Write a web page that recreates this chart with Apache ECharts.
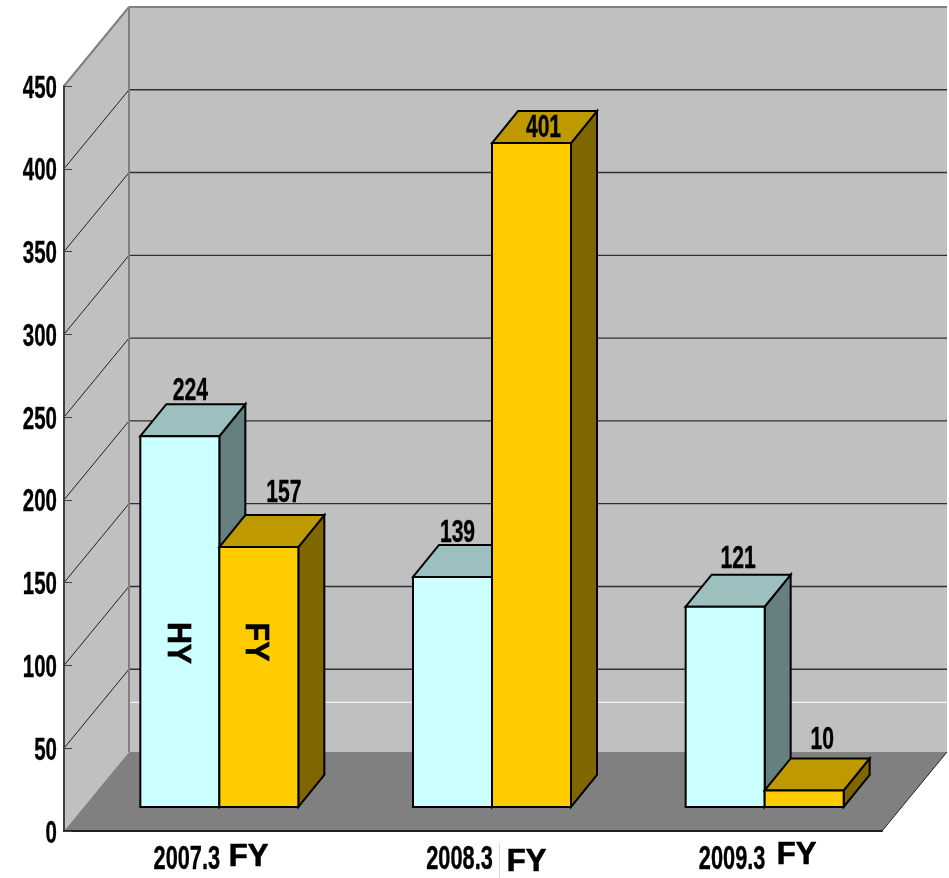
<!DOCTYPE html>
<html>
<head>
<meta charset="utf-8">
<style>html,body{margin:0;padding:0;background:#fff}#c{width:949px;height:878px}</style>
<script src="https://cdn.jsdelivr.net/npm/echarts@6/dist/echarts.min.js"></script>
</head>
<body>
<div id="c"></div>
<script>
const categories = ['2007.3', '2008.3', '2009.3'];
const hyValues = [224, 139, 121];
const fyValues = [157, 401, 10];
const yTicks = [0, 50, 100, 150, 200, 250, 300, 350, 400, 450];
const referenceLine = [30];
const periodTag = ['FY', 'FY', 'FY'];

const ARIAL = '"Liberation Sans",Arial,sans-serif';
const WALL = { dx: 65, dy: -79 };
const BAR = { w: 79, offX: 19, offY: -24, dx: 26, dy: -32 };
const COL = {
  hy: { front: '#CCFFFF', top: '#9CC0BF', side: '#668080' },
  fy: { front: '#FFCC00', top: '#BF9900', side: '#806600' }
};
const poly = (pts, fill, stroke, lw) => ({
  type: 'polygon', shape: { points: pts },
  style: { fill: fill, stroke: stroke || null, lineWidth: lw || 0, lineJoin: 'miter' }
});
const line = (x1, y1, x2, y2, stroke, lw) => ({
  type: 'line', shape: { x1, y1, x2, y2 }, style: { stroke, lineWidth: lw }
});
const txt = (x, y, text, font, extra) => Object.assign({
  type: 'text', x, y,
  style: { text, font, fill: '#000', stroke: '#000', lineWidth: 0.7, align: 'center', verticalAlign: 'middle' }
}, extra || {});
/* condensed gothic look: Liberation bold squeezed horizontally */
const narrow = (x, y, text, size, align) => ({
  type: 'text', x, y, scaleX: 0.66, scaleY: 1,
  style: {
    text, font: 'bold ' + size + 'px ' + ARIAL, fill: '#000',
    stroke: '#000', lineWidth: 0.4,
    align: align || 'center', verticalAlign: 'middle'
  }
});

function renderWalls(params, api) {
  const cs = params.coordSys;
  const L = cs.x, R = cs.x + cs.width, B = cs.y + cs.height, T = cs.y;
  const d = WALL;
  const kids = [
    poly([[L + d.dx, T + d.dy], [R + d.dx, T + d.dy], [R + d.dx, B + d.dy], [L + d.dx, B + d.dy]], '#C0C0C0'),
    poly([[L, T], [L + d.dx, T + d.dy], [L + d.dx, B + d.dy], [L, B]], '#C0C0C0'),
    poly([[L, B], [L + d.dx, B + d.dy], [R + d.dx, B + d.dy], [R, B]], '#808080')
  ];
  yTicks.forEach(v => {
    if (v === 0 || v === 450) return;
    const y = api.coord([0, v])[1];
    kids.push(line(L + d.dx, y + d.dy, R + d.dx, y + d.dy, '#303030', 1.4));
    kids.push(line(L, y, L + d.dx, y + d.dy, '#202020', 1));
  });
  referenceLine.forEach(v => {
    const y = api.coord([0, v])[1] + d.dy;
    kids.push(line(L + d.dx, y, R + d.dx, y, '#FFFFFF', 1));
  });
  kids.push(line(L, T, L + d.dx, T + d.dy, '#808080', 2));
  kids.push(line(L + d.dx, T + d.dy, R + d.dx, T + d.dy, '#808080', 2));
  kids.push(line(L + d.dx, T + d.dy, L + d.dx, B + d.dy, '#808080', 2));
  kids.push(line(R, B, R + d.dx, B + d.dy, '#202020', 1));
  return { type: 'group', children: kids };
}

function cuboid(x0, x1, yTop, yBase, c) {
  const b = BAR;
  return [
    poly([[x1, yTop], [x1 + b.dx, yTop + b.dy], [x1 + b.dx, yBase + b.dy], [x1, yBase]], c.side, '#000', 2),
    poly([[x0, yTop], [x0 + b.dx, yTop + b.dy], [x1 + b.dx, yTop + b.dy], [x1, yTop]], c.top, '#000', 2),
    poly([[x0, yTop], [x1, yTop], [x1, yBase], [x0, yBase]], c.front, '#000', 2)
  ];
}

function renderBars(params, api) {
  const kind = api.value(2);
  const p = api.coord([api.value(0), api.value(1)]);
  const base = api.coord([api.value(0), 0])[1] + BAR.offY;
  const cx = p[0] + BAR.offX;
  const x0 = kind === 0 ? cx - BAR.w : cx;
  const x1 = kind === 0 ? cx : cx + BAR.w;
  return { type: 'group', children: cuboid(x0, x1, p[1] + BAR.offY, base, kind === 0 ? COL.hy : COL.fy) };
}

/* hand placed label nudges: [dx from bar centre, dy from bar top] */
const nudgeHy = [[10.5, -45], [5, -44], [13, -48]];
const nudgeFy = [[25, -54], [12, -15], [18, -50]];
function renderLabels(params, api) {
  const i = api.value(0), kind = api.value(2);
  const p = api.coord([i, api.value(1)]);
  const cx = p[0] + BAR.offX + (kind === 0 ? -BAR.w / 2 : BAR.w / 2);
  const n = (kind === 0 ? nudgeHy : nudgeFy)[i];
  return narrow(cx + n[0], p[1] + BAR.offY + n[1], String(api.value(1)), 32);
}

function renderAxisText(params, api) {
  const cs = params.coordSys;
  const kids = [];
  yTicks.forEach(v => {
    kids.push(narrow(cs.x - 7, api.coord([0, v])[1] + 3, String(v), 31, 'right'));
  });
  categories.forEach((c, i) => {
    kids.push(narrow(api.coord([i, 0])[0] - 13.5, 860, c, 33));
  });
  return { type: 'group', children: kids };
}

function renderNotes(params, api) {
  const kids = [];
  const c0 = api.coord([0, 0])[0];
  const rot = { rotation: -Math.PI / 2, scaleX: 0.92 };
  kids.push(txt(c0 - 23, 643, 'HY', 'bold 33px ' + ARIAL, rot));
  kids.push(txt(c0 + 55, 642, 'FY', 'bold 33px ' + ARIAL, rot));
  const c1 = api.coord([1, 0])[0];
  kids.push({ type: 'rect', shape: { x: c1 + 26.5, y: 844, width: 60, height: 34 }, style: { fill: '#fff' } });
  kids.push(line(c1 + 26.5, 843, c1 + 26.5, 878, '#D8D8D8', 1));
  const fyPos = [[248.5, 857], [526.5, 862], [796.5, 855.5]];
  periodTag.forEach((t, k) => kids.push(txt(fyPos[k][0], fyPos[k][1], t, 'bold 31px ' + ARIAL)));
  return { type: 'group', children: kids };
}

const barData = [];
categories.forEach((c, i) => {
  barData.push([i, hyValues[i], 0]);
  barData.push([i, fyValues[i], 1]);
});

const chart = echarts.init(document.getElementById('c'), null, { renderer: 'canvas' });
chart.setOption({
  animation: false,
  backgroundColor: '#fff',
  grid: { left: 64, right: 67, top: 86, bottom: 47, containLabel: false },
  xAxis: {
    type: 'category', data: categories, z: 2,
    axisLine: { onZero: false, lineStyle: { color: '#202020', width: 2 } },
    axisTick: { inside: true, length: 13, lineStyle: { color: '#303030', width: 1 } },
    axisLabel: { show: false },
    splitLine: { show: false }
  },
  yAxis: {
    type: 'value', min: 0, max: 450, interval: 50, z: 2,
    axisLine: { show: true, lineStyle: { color: '#404040', width: 2 } },
    axisTick: { show: true, inside: true, length: 8, lineStyle: { color: '#404040', width: 1 } },
    axisLabel: { show: false },
    splitLine: { show: false }
  },
  series: [
    { type: 'custom', z: 1, silent: true, clip: false, data: [[0, 0]], renderItem: renderWalls },
    { type: 'custom', z: 3, silent: true, clip: false, data: barData, encode: { x: 0, y: 1 }, renderItem: renderBars },
    { type: 'custom', z: 4, silent: true, clip: false, data: barData, encode: { x: 0, y: 1 }, renderItem: renderLabels },
    { type: 'custom', z: 4, silent: true, clip: false, data: [[0, 0]], renderItem: renderAxisText },
    { type: 'custom', z: 5, silent: true, clip: false, data: [[0, 0]], renderItem: renderNotes }
  ]
});
</script>
</body>
</html>
